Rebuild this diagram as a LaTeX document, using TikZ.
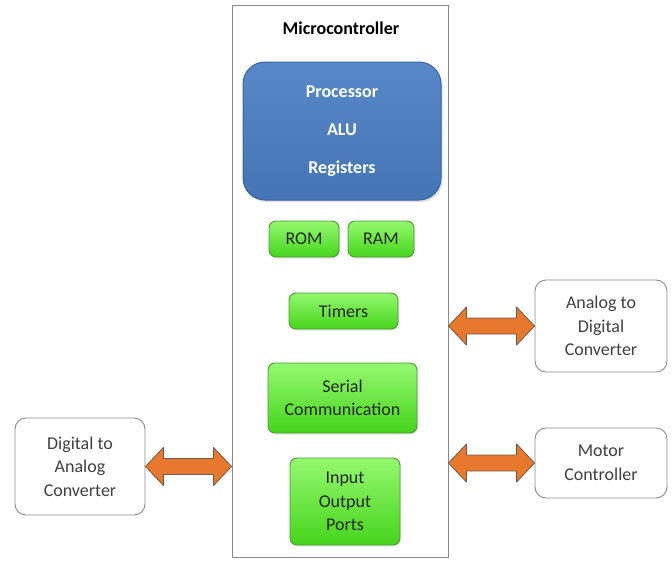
\documentclass[tikz,border=0pt]{standalone}
\usepackage{fontspec}
\setmainfont{Carlito}
\usepackage{tikz}
\usetikzlibrary{calc, shadows}
\definecolor{procc}{HTML}{4A7EC2}
\definecolor{procb}{HTML}{3765A3}
\definecolor{blocktop}{HTML}{95F870}
\definecolor{blockbot}{HTML}{46D41C}
\definecolor{blockb}{HTML}{4E9A36}
\definecolor{portc}{HTML}{E9782F}
\definecolor{portb}{HTML}{6B5A4E}
\definecolor{edgec}{HTML}{8A8A8A}
\newcommand{\duplex}[2]{%
  \draw[duparrow] (#1) -- ($(#1)+(18,19)$) -- ($(#1)+(18,8)$)
    -- ($(#2)+(-18,8)$) -- ($(#2)+(-18,19)$) -- (#2)
    -- ($(#2)+(-18,-19)$) -- ($(#2)+(-18,-8)$)
    -- ($(#1)+(18,-8)$) -- ($(#1)+(18,-19)$) -- cycle;
}

\begin{document}
\begin{tikzpicture}[x=1pt, y=-1pt,
    font=\fontsize{18}{23.5}\selectfont,
    chip/.style={draw=edgec, line width=0.9pt, fill=white,
      minimum width=216pt, minimum height=552pt},
    procbox/.style={draw=procb, line width=1pt, rounded corners=22pt,
      top color=procc!92!white, bottom color=procc!92!black,
      drop shadow={opacity=0.25, shadow xshift=1.5pt, shadow yshift=-2pt},
      text=white, font=\fontsize{18}{38}\selectfont\bfseries, align=center},
    block/.style={draw=blockb, line width=0.9pt, rounded corners=7pt,
      top color=blocktop, bottom color=blockbot,
      drop shadow={opacity=0.2, shadow xshift=1pt, shadow yshift=-1.5pt},
      text=black!85, align=center, inner sep=2pt},
    periph/.style={draw=edgec, line width=0.9pt, rounded corners=11pt,
      fill=white, text=black!75, align=center, minimum width=132pt},
    duparrow/.style={draw=portb, line width=0.8pt, fill=portc,
      line join=round}]
  \useasboundingbox (0,0) rectangle (672,562);

  % microcontroller and its parts
  \node[chip] (mcu) at (340,281) {};
  \node[font=\fontsize{18}{23}\selectfont\bfseries] (title) at (341,28)
    {Microcontroller};
  \node[procbox, minimum width=198pt, minimum height=138pt] (proc)
    at (342,131) {Processor\\ALU\\Registers};
  \node[block, minimum width=70pt, minimum height=36pt] (rom)
    at (304,239) {ROM};
  \node[block, minimum width=66pt, minimum height=36pt] (ram)
    at (381,239) {RAM};
  \node[block, minimum width=109pt, minimum height=36pt] (timers)
    at (343.5,311) {Timers};
  \node[block, minimum width=149pt, minimum height=70pt] (serial)
    at (342.5,398) {Serial\\Communication};
  \node[block, minimum width=110pt, minimum height=87pt] (io)
    at (345,501.5) {Input\\Output\\Ports};

  % peripherals
  \node[periph, minimum width=130pt, minimum height=97pt] (dac)
    at (80,466.5) {Digital to\\Analog\\Converter};
  \node[periph, minimum height=92pt] (adc)
    at (601,326) {Analog to\\Digital\\Converter};
  \node[periph, minimum height=70pt] (motor)
    at (601,463) {Motor\\Controller};

  \coordinate (dacin) at (dac.east -| mcu.west);
  \coordinate (adcout) at (adc.west -| mcu.east);
  \coordinate (motout) at (motor.west -| mcu.east);
  \duplex{dac.east}{dacin}
  \duplex{adcout}{adc.west}
  \duplex{motout}{motor.west}
\end{tikzpicture}
\end{document}
